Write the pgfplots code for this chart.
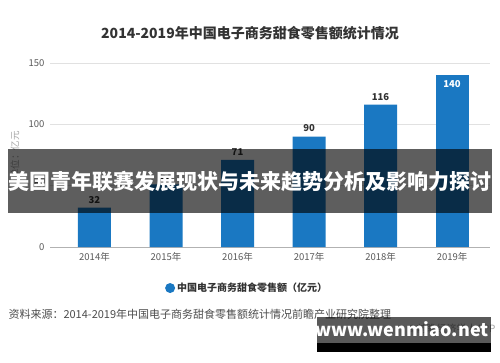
\documentclass[border=0pt]{standalone}
\usepackage{fontspec}
\setmainfont{Noto Sans CJK SC}
\usepackage{pgfplots}
\pgfplotsset{compat=1.18}
\definecolor{barblue}{RGB}{26,120,194}
\definecolor{tickgray}{RGB}{90,90,90}
\definecolor{gridgray}{RGB}{225,225,225}
\begin{document}
\begin{tikzpicture}[x=1pt,y=1pt]
\path[use as bounding box, fill=white] (0,0) rectangle (500,362);
\begin{axis}[
  at={(50pt,115pt)}, anchor=south west,
  scale only axis, width=440pt, height=184pt,
  xmin=-0.622, xmax=5.53, ymin=0, ymax=150,
  xtick={0,1,2,3,4,5},
  xticklabels={2014年,2015年,2016年,2017年,2018年,2019年},
  ytick={0,50,100,150},
  ymajorgrids, grid style={gridgray, line width=0.8pt},
  axis x line*=bottom,
  x axis line style={draw=gray!60, line width=0.8pt, -},
  axis y line*=left,
  y axis line style={draw=none},
  major tick length=0pt,
  tick label style={font=\fontsize{9.5}{10}\selectfont, text=tickgray},
  /pgf/number format/assume math mode=true,
  xticklabel style={yshift=-2pt},
  yticklabel style={xshift=-2pt},
  clip=false,
  legend style={at={(0.448,-0.223)}, anchor=center, draw=none, fill=none,
    font=\fontsize{10}{12}\selectfont\bfseries, text=black!80},
  legend image code/.code={\fill[barblue] (0pt,0pt) circle (5pt);},
]
\addplot[ybar, bar width=33pt, bar shift=0pt, fill=barblue, draw=none,
  nodes near coords, every node near coord/.append style={font=\fontsize{9.5}{10}\selectfont\bfseries, text=black!80, yshift=1pt}]
  coordinates {(0,32) (1,51) (2,71) (3,90) (4,116)};
\addlegendentry{中国电子商务甜食零售额（亿元）}
\addplot[ybar, bar width=33pt, bar shift=0pt, fill=barblue, draw=none, forget plot,
  nodes near coords, nodes near coords align={below},
  every node near coord/.append style={font=\fontsize{9.5}{10}\selectfont\bfseries, text=white, yshift=-2pt}]
  coordinates {(5,140)};
\end{axis}
% title
\node[font=\fontsize{14}{16}\selectfont\bfseries, text=black!80] at (250,329) {2014-2019年中国电子商务甜食零售额统计情况};
% y label
\node[rotate=90, font=\fontsize{9.5}{10}\selectfont, text=gray!70] at (15,207) {单位：亿元};
% source
\node[anchor=west, font=\fontsize{11}{12}\selectfont, text=black!70] at (5,48) {资料来源：2014-2019年中国电子商务甜食零售额统计情况前瞻产业研究院整理};
\node[anchor=east, font=\fontsize{10}{12}\selectfont, text=gray!70] at (499,33) {©前瞻经济学人APP};
% banner
\fill[black, opacity=0.63] (8,149) rectangle (492,213);
\node[font=\fontsize{21}{24}\selectfont\bfseries, text=white] at (250,181) {美国青年联赛发展现状与未来趋势分析及影响力探讨};
% bottom watermark box
\fill[black, opacity=0.65] (317,19) rectangle (491,45);
\fill[black] (317,10) rectangle (491,19);
\node[font=\fontsize{18}{20}\selectfont\bfseries, text=white] at (402,33) {www.wenmiao.net};
\end{tikzpicture}
\end{document}
